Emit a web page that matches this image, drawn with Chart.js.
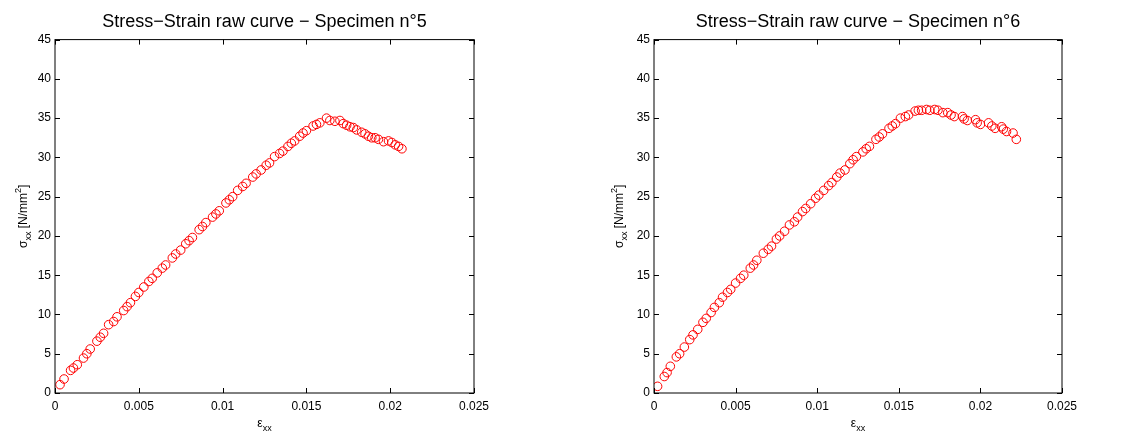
<!DOCTYPE html>
<html>
<head>
<meta charset="utf-8">
<script src="https://cdn.jsdelivr.net/npm/chart.js@4"></script>
<style>
  html, body { margin: 0; padding: 0; background: #fff; }
  canvas { position: absolute; top: 0; }
</style>
</head>
<body>
<canvas id="c5" width="560" height="433" style="left:0"></canvas>
<canvas id="c6" width="575" height="433" style="left:560px"></canvas>
<script>
// specimen 5
const strain5 = [0.0003,0.00054,0.00093,0.0011,0.00133,0.0017,0.0019,0.0021,0.0025,0.0027,
  0.0029,0.0032,0.0035,0.0037,0.0041,0.0043,0.0045,0.0048,0.005,0.0053,
  0.0056,0.0058,0.0061,0.0064,0.0066,0.007,0.0072,0.0075,0.0078,0.008,
  0.0082,0.0086,0.0088,0.009,0.0094,0.0096,0.0098,0.0102,0.0104,0.0106,
  0.0109,0.0112,0.0114,0.0118,0.012,0.0123,0.0126,0.0128,0.0131,0.0134,
  0.0136,0.0139,0.0141,0.0143,0.0146,0.0148,0.015,0.0154,0.0156,0.0158,
  0.0162,0.0164,0.0167,0.017,0.0172,0.0174,0.0176,0.0178,0.018,0.0183,
  0.0185,0.0187,0.0189,0.0191,0.0193,0.0196,0.0199,0.0201,0.0203,0.0205,0.0207];
const stress5 = [1.06,1.78,2.88,3.18,3.6,4.45,5.0,5.6,6.6,7.1,
  7.6,8.7,9.1,9.7,10.5,11.0,11.5,12.3,12.8,13.5,
  14.2,14.6,15.3,15.9,16.3,17.2,17.7,18.2,19.0,19.4,
  19.8,20.8,21.2,21.7,22.4,22.8,23.2,24.2,24.6,25.0,
  25.8,26.3,26.7,27.5,27.9,28.4,29.0,29.3,30.1,30.5,
  30.8,31.4,31.8,32.1,32.7,33.1,33.4,34.0,34.2,34.4,
  35.0,34.7,34.6,34.7,34.3,34.1,33.9,33.8,33.5,33.2,
  33.0,32.7,32.5,32.5,32.3,32.0,32.1,31.9,31.6,31.4,31.1];

// specimen 6
const strain6 = [0.00022,0.00063,0.0008,0.001,0.00137,0.00157,0.00186,0.00219,0.00239,0.00268,
  0.003,0.0032,0.0035,0.0037,0.004,0.0042,0.0045,0.0047,0.005,0.0053,
  0.0055,0.0059,0.0061,0.0063,0.0067,0.007,0.0072,0.0075,0.0077,0.008,
  0.0083,0.0086,0.0088,0.0091,0.0093,0.0096,0.0099,0.0101,0.0104,0.0107,
  0.0109,0.0112,0.0114,0.0117,0.012,0.0122,0.0124,0.0128,0.013,0.0132,
  0.0136,0.0138,0.014,0.0144,0.0146,0.0148,0.0151,0.0154,0.0156,0.016,
  0.0162,0.0164,0.0167,0.0169,0.0172,0.0174,0.0177,0.018,0.0182,0.0184,
  0.0189,0.019,0.0192,0.0197,0.0198,0.02,0.0205,0.0207,0.0209,0.0213,
  0.0214,0.0216,0.022,0.0222];
const stress6 = [0.85,2.1,2.6,3.4,4.6,5.0,5.85,6.8,7.4,8.1,
  9.0,9.5,10.25,10.9,11.5,12.2,12.8,13.2,14.0,14.6,
  15.0,15.9,16.3,16.9,17.8,18.3,18.7,19.6,20.0,20.6,
  21.4,21.8,22.4,23.1,23.5,24.1,24.8,25.2,25.8,26.4,
  26.8,27.5,28.0,28.4,29.2,29.7,30.1,30.7,31.1,31.4,
  32.3,32.6,33.0,33.7,34.0,34.3,35.0,35.2,35.4,35.9,
  36.0,36.0,36.1,36.0,36.1,36.0,35.7,35.7,35.4,35.2,
  35.2,34.9,34.7,34.8,34.4,34.2,34.4,34.0,33.7,33.9,
  33.6,33.3,33.1,32.3];

const xTicks = [0, 0.005, 0.01, 0.015, 0.02, 0.025];
const xTickLabels = ['0', '0.005', '0.01', '0.015', '0.02', '0.025'];
const yTicks = [0, 5, 10, 15, 20, 25, 30, 35, 40, 45];

const FONT = '"Liberation Sans", Arial, Helvetica, sans-serif';

// draw a run of text pieces, each with its own size and vertical shift
function drawParts(ctx, parts, x, y) {
  let w = 0;
  parts.forEach(p => { ctx.font = p.size + 'px ' + FONT; p.w = ctx.measureText(p.t).width; w += p.w; });
  let cx = x - w / 2;
  parts.forEach(p => {
    ctx.font = p.size + 'px ' + FONT;
    ctx.fillText(p.t, cx, y + p.dy);
    cx += p.w;
  });
}

// MATLAB-like box with inward ticks and axis labels
const framePlugin = {
  id: 'frame',
  afterDraw(chart, args, opts) {
    const { ctx, chartArea: a, scales: { x, y } } = chart;
    ctx.save();
    ctx.strokeStyle = '#000';
    ctx.lineWidth = 1;
    ctx.strokeRect(a.left, a.top, a.right - a.left, a.bottom - a.top);
    ctx.beginPath();
    x.ticks.forEach(t => {
      const px = Math.round(x.getPixelForValue(t.value)) + 0.5;
      ctx.moveTo(px, a.bottom); ctx.lineTo(px, a.bottom - 5);
      ctx.moveTo(px, a.top); ctx.lineTo(px, a.top + 5);
    });
    y.ticks.forEach(t => {
      const py = Math.round(y.getPixelForValue(t.value)) + 0.5;
      ctx.moveTo(a.left, py); ctx.lineTo(a.left + 5, py);
      ctx.moveTo(a.right, py); ctx.lineTo(a.right - 5, py);
    });
    ctx.stroke();

    ctx.fillStyle = '#000';
    ctx.textBaseline = 'alphabetic';
    ctx.textAlign = 'left';
    const cx = (a.left + a.right) / 2;
    drawParts(ctx, [
      { t: 'ε', size: 12, dy: 0 },
      { t: 'xx', size: 9, dy: 4 }
    ], cx, 427);

    ctx.translate(opts.yLabelX, (a.top + a.bottom) / 2);
    ctx.rotate(-Math.PI / 2);
    drawParts(ctx, [
      { t: 'σ', size: 12, dy: 0 },
      { t: 'xx', size: 9, dy: 4 },
      { t: ' [N/mm', size: 12, dy: 0 },
      { t: '2', size: 9, dy: -6 },
      { t: ']', size: 12, dy: 0 }
    ], 0, 0);
    ctx.restore();
  }
};

function makeChart(id, title, xs, ys, yAxisWidth, rightPad, yLabelX) {
  const points = xs.map((v, i) => ({ x: v, y: ys[i] }));
  return new Chart(document.getElementById(id), {
    type: 'scatter',
    data: {
      datasets: [{
        data: points,
        pointStyle: 'circle',
        pointRadius: 4.3,
        pointBorderWidth: 1,
        pointBorderColor: 'rgb(255,0,0)',
        pointBackgroundColor: 'rgba(0,0,0,0)',
        showLine: false
      }]
    },
    options: {
      responsive: false,
      animation: false,
      layout: { padding: { left: 0, right: rightPad, top: 0, bottom: 0 } },
      plugins: {
        legend: { display: false },
        tooltip: { enabled: false },
        title: {
          display: true,
          text: title,
          fullSize: false,
          color: '#000',
          font: { family: FONT, size: 18, weight: 'normal' },
          padding: { top: 11, bottom: 7 }
        },
        frame: { yLabelX: yLabelX }
      },
      scales: {
        x: {
          type: 'linear',
          min: 0,
          max: 0.025,
          afterBuildTicks: s => { s.ticks = xTicks.map(v => ({ value: v })); },
          afterFit: s => { s.height = 40; },
          grid: { display: false, tickLength: 0 },
          border: { display: false },
          ticks: {
            color: '#000',
            padding: 6,
            maxRotation: 0,
            font: { family: FONT, size: 12 },
            callback: v => xTickLabels[xTicks.indexOf(+v.toFixed(3))]
          }
        },
        y: {
          type: 'linear',
          min: 0,
          max: 45,
          afterBuildTicks: s => { s.ticks = yTicks.map(v => ({ value: v })); },
          afterFit: s => { s.width = yAxisWidth; },
          grid: { display: false, tickLength: 0 },
          border: { display: false },
          ticks: {
            color: '#000',
            padding: 4,
            font: { family: FONT, size: 12 }
          }
        }
      }
    },
    plugins: [framePlugin]
  });
}

makeChart('c5', 'Stress\u2212Strain raw curve \u2212 Specimen n°5', strain5, stress5, 55, 86, 27);
makeChart('c6', 'Stress\u2212Strain raw curve \u2212 Specimen n°6', strain6, stress6, 94, 73, 63);
</script>
</body>
</html>
